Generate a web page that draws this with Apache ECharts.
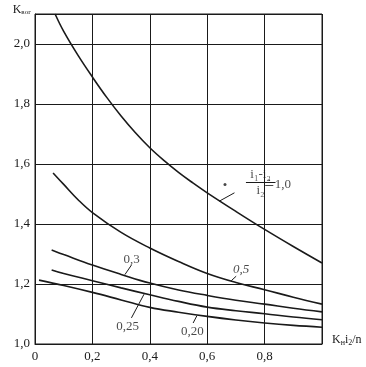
<!DOCTYPE html>
<html><head><meta charset="utf-8">
<script src="https://cdn.jsdelivr.net/npm/echarts@6/dist/echarts.min.js"></script>
<style>html,body{margin:0;padding:0;background:#fff}#c{width:366px;height:367px}</style>
</head><body><div id="c"></div>
<script>
// ---- data ----
const xTickLabels = ['0', '0,2', '0,4', '0,6', '0,8'];
const yTickLabels = ['1,0', '1,2', '1,4', '1,6', '1,8', '2,0'];

const x10 = [0.07, 0.1, 0.15, 0.2, 0.25, 0.3, 0.35, 0.4, 0.45, 0.5, 0.55, 0.6, 0.7, 0.8, 0.9, 1.0];
const y10 = [2.10, 2.042, 1.962, 1.89, 1.822, 1.76, 1.704, 1.654, 1.611, 1.572, 1.537, 1.504, 1.442, 1.382, 1.325, 1.27];

const x05 = [0.063, 0.1, 0.15, 0.2, 0.3, 0.4, 0.5, 0.6, 0.7, 0.8, 0.9, 1.0];
const y05 = [1.57, 1.532, 1.481, 1.438, 1.372, 1.32, 1.275, 1.235, 1.205, 1.181, 1.156, 1.133];

const x03 = [0.058, 0.1, 0.2, 0.3, 0.4, 0.5, 0.6, 0.7, 0.8, 0.9, 1.0];
const y03 = [1.313, 1.298, 1.263, 1.232, 1.203, 1.18, 1.162, 1.146, 1.133, 1.119, 1.107];

const x025 = [0.058, 0.1, 0.2, 0.3, 0.4, 0.5, 0.6, 0.7, 0.8, 0.9, 1.0];
const y025 = [1.247, 1.235, 1.211, 1.187, 1.164, 1.142, 1.123, 1.111, 1.101, 1.09, 1.081];

const x020 = [0.014, 0.1, 0.2, 0.3, 0.4, 0.5, 0.6, 0.7, 0.8, 0.9, 1.0];
const y020 = [1.213, 1.195, 1.172, 1.147, 1.122, 1.106, 1.092, 1.08, 1.07, 1.062, 1.056];

// curve annotations (data coordinates)
const labelTexts = ['0,3', '0,25', '0,20', '0,5', 'i₁-i₂', 'i₂', '≐1,0'];
const labelX     = [0.337, 0.323, 0.548, 0.718, 0.786, 0.786, 0.845];
const labelY     = [1.28, 1.057, 1.043, 1.247, 1.566, 1.51, 1.533];
const leaderSegs = [
  [0.336, 1.263, 0.313, 1.231],
  [0.336, 1.087, 0.38, 1.166],
  [0.551, 1.07, 0.564, 1.094],
  [0.684, 1.211, 0.701, 1.226],
  [0.695, 1.504, 0.642, 1.476],
  [0.735, 1.539, 0.838, 1.539]   // fraction bar
];
const dotX = [0.662], dotY = [1.532];

// ---- chart ----
const FONT = '"Liberation Serif", "DejaVu Serif", serif';
const INK = '#1a1a1a';
const zip = (xs, ys) => xs.map((x, i) => [x, ys[i]]);

const curveSeries = [[x10, y10], [x05, y05], [x03, y03], [x025, y025], [x020, y020]].map(([xs, ys]) => ({
  type: 'line', data: zip(xs, ys), smooth: 0.4, symbol: 'none', clip: true,
  lineStyle: { color: INK, width: 1.6 }, z: 3
}));

const labelData = labelTexts.map((t, i) => ({
  value: [labelX[i], labelY[i]], name: t,
  label: { fontStyle: t === '0,5' ? 'italic' : 'normal', fontSize: 13 }
}));

const chart = echarts.init(document.getElementById('c'), null, { renderer: 'canvas' });
chart.setOption({
  animation: false,
  backgroundColor: '#fff',
  grid: { left: 35, right: 44, top: 14, bottom: 23, show: true, borderColor: INK, borderWidth: 1, backgroundColor: 'transparent' },
  xAxis: {
    type: 'value', min: 0, max: 1.0, interval: 0.2,
    axisLine: { show: true, lineStyle: { color: INK, width: 1 } },
    axisTick: { show: false },
    splitLine: { show: true, lineStyle: { color: INK, width: 1 } },
    axisLabel: {
      color: INK, fontFamily: FONT, fontSize: 13, margin: 6,
      formatter: (v) => { const i = Math.round(v / 0.2); return (Math.abs(v - i * 0.2) < 1e-6 && i < xTickLabels.length) ? xTickLabels[i] : ''; }
    },
    name: '{k|K}{s|н}{k|i}{s|2}{k|/n}', nameLocation: 'end', nameGap: 10,
    nameTextStyle: {
      align: 'left', verticalAlign: 'middle', padding: [0, 0, 8, 0],
      rich: {
        k: { fontFamily: FONT, fontSize: 12, color: INK },
        s: { fontFamily: FONT, fontSize: 8, color: INK, padding: [5, 0, 0, 0] }
      }
    }
  },
  yAxis: {
    type: 'value', min: 1.0, max: 2.1, interval: 0.2,
    axisLine: { show: true, lineStyle: { color: INK, width: 1 } },
    axisTick: { show: false },
    splitLine: { show: true, lineStyle: { color: INK, width: 1 } },
    axisLabel: {
      color: INK, fontFamily: FONT, fontSize: 13, margin: 5,
      formatter: (v) => { const i = Math.round((v - 1.0) / 0.2); return (Math.abs(v - 1.0 - i * 0.2) < 1e-6 && i < yTickLabels.length) ? yTickLabels[i] : ''; }
    },
    name: '{k|K}{s|вог}', nameLocation: 'end', nameGap: -2,
    nameTextStyle: {
      align: 'right', verticalAlign: 'bottom', padding: [0, 4, 0, 0],
      rich: {
        k: { fontFamily: FONT, fontSize: 12, color: INK },
        s: { fontFamily: FONT, fontSize: 7, color: INK, padding: [4, 0, 0, 0] }
      }
    }
  },
  series: [
    ...curveSeries,
    {
      type: 'lines', coordinateSystem: 'cartesian2d', polyline: false, silent: true,
      lineStyle: { color: INK, width: 1, opacity: 1 }, z: 4,
      data: leaderSegs.map(s => ({ coords: [[s[0], s[1]], [s[2], s[3]]] }))
    },
    {
      type: 'scatter', symbolSize: 0, silent: true, z: 5,
      data: labelData,
      label: { show: true, position: 'inside', color: INK, fontFamily: FONT, fontSize: 13, formatter: (p) => p.name }
    },
    {
      type: 'scatter', symbol: 'circle', symbolSize: 3, silent: true, z: 5,
      itemStyle: { color: INK }, data: zip(dotX, dotY)
    }
  ]
});
</script></body></html>
